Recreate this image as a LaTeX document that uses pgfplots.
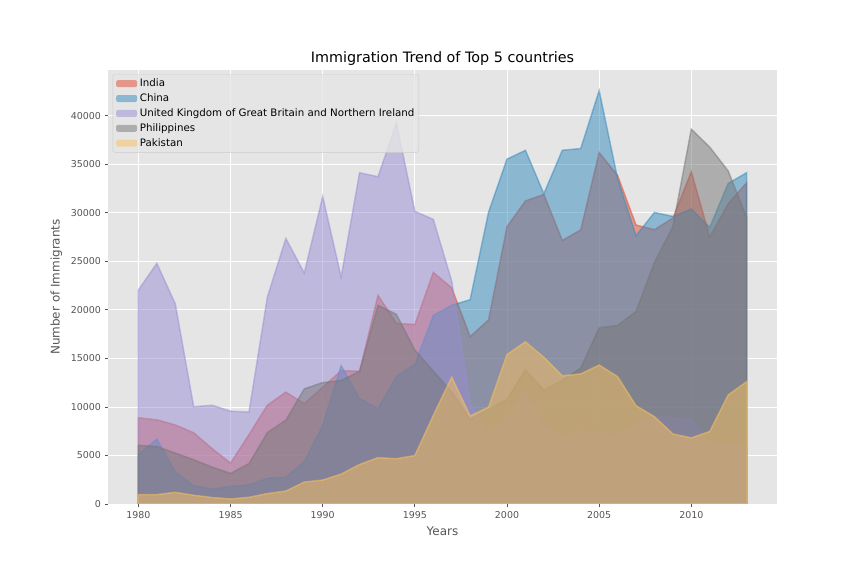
\documentclass[border=0pt]{standalone}
\usepackage{fontspec}
\setmainfont{DejaVu Sans}
\usepackage{pgfplots}
\pgfplotsset{compat=1.18}
\definecolor{bggray}{HTML}{E5E5E5}
\definecolor{cIndia}{HTML}{E24A33}
\definecolor{cChina}{HTML}{348ABD}
\definecolor{cUK}{HTML}{988ED5}
\definecolor{cPhil}{HTML}{777777}
\definecolor{cPak}{HTML}{FBC15E}
\definecolor{tickgray}{HTML}{555555}
\begin{document}
\begin{tikzpicture}[x=1bp,y=1bp]
\path[use as bounding box] (0,0) rectangle (864,576);
\begin{axis}[
  at={(108bp,72bp)}, anchor=south west,
  scale only axis, width=669bp, height=434bp,
  xmin=1978.35, xmax=2014.65, ymin=0, ymax=44713,
  axis background/.style={fill=bggray},
  axis line style={draw=none},
  grid=major, grid style={white, line width=0.8pt},
  xtick={1980,1985,...,2010}, ytick={0,5000,...,40000},
  scaled y ticks=false,
  /pgf/number format/1000 sep={},
  /pgf/number format/assume math mode=true,
  tick align=outside, major tick length=3.5bp,
  tick style={tickgray, line width=0.8pt},
  xtick pos=bottom, ytick pos=left,
  ticklabel style={font=\fontsize{9.5}{11}\selectfont, text=tickgray},
  xlabel={Years}, ylabel={Number of Immigrants},
  label style={font=\fontsize{12}{14}\selectfont, text=tickgray},
  xlabel style={yshift=-2bp},
  ylabel style={yshift=2bp},
  title={Immigration Trend of Top 5 countries},
  title style={font=\fontsize{14.4}{16}\selectfont, yshift=-5bp},
  legend cell align=left,
  legend style={fill=bggray, fill opacity=0.8, text opacity=1, draw=black!20, rounded corners=2bp,
    font=\fontsize{10.3}{12}\selectfont, at={(0.007,0.99)}, anchor=north west, row sep=1.6bp, inner sep=2.5bp},
  legend image code/.code={\fill[#1, draw opacity=0] (0bp,-3.5bp) rectangle (21bp,3.5bp);},
]
\addplot[draw=cIndia, draw opacity=0.5, fill=cIndia, fill opacity=0.5, line width=1.5pt] coordinates {
(1980,8880)(1981,8670)(1982,8147)(1983,7338)(1984,5704)(1985,4211)(1986,7150)(1987,10189)(1988,11522)(1989,10343)
(1990,12041)(1991,13734)(1992,13673)(1993,21496)(1994,18620)(1995,18489)(1996,23859)(1997,22268)(1998,17241)(1999,18974)
(2000,28572)(2001,31223)(2002,31889)(2003,27155)(2004,28235)(2005,36210)(2006,33848)(2007,28742)(2008,28261)(2009,29456)
(2010,34235)(2011,27509)(2012,30933)(2013,33087)} \closedcycle;
\addlegendentry{India}
\addplot[draw=cChina, draw opacity=0.5, fill=cChina, fill opacity=0.5, line width=1.5pt] coordinates {
(1980,5123)(1981,6682)(1982,3308)(1983,1863)(1984,1527)(1985,1816)(1986,1960)(1987,2643)(1988,2758)(1989,4323)
(1990,8076)(1991,14255)(1992,10846)(1993,9817)(1994,13128)(1995,14398)(1996,19415)(1997,20475)(1998,21049)(1999,30069)
(2000,35529)(2001,36434)(2002,31961)(2003,36439)(2004,36619)(2005,42584)(2006,33518)(2007,27642)(2008,30037)(2009,29622)
(2010,30391)(2011,28502)(2012,33024)(2013,34129)} \closedcycle;
\addlegendentry{China}
\addplot[draw=cUK, draw opacity=0.5, fill=cUK, fill opacity=0.5, line width=1.5pt] coordinates {
(1980,22045)(1981,24796)(1982,20620)(1983,10015)(1984,10170)(1985,9564)(1986,9470)(1987,21337)(1988,27359)(1989,23795)
(1990,31668)(1991,23380)(1992,34123)(1993,33720)(1994,39231)(1995,30145)(1996,29322)(1997,22965)(1998,10367)(1999,7045)
(2000,8840)(2001,11728)(2002,8046)(2003,6797)(2004,7533)(2005,7258)(2006,7140)(2007,8216)(2008,8979)(2009,8876)
(2010,8724)(2011,6204)(2012,6195)(2013,5827)} \closedcycle;
\addlegendentry{United Kingdom of Great Britain and Northern Ireland}
\addplot[draw=cPhil, draw opacity=0.5, fill=cPhil, fill opacity=0.5, line width=1.5pt] coordinates {
(1980,6051)(1981,5921)(1982,5249)(1983,4562)(1984,3801)(1985,3150)(1986,4166)(1987,7360)(1988,8639)(1989,11865)
(1990,12509)(1991,12718)(1992,13670)(1993,20479)(1994,19532)(1995,15864)(1996,13692)(1997,11549)(1998,8735)(1999,9734)
(2000,10763)(2001,13836)(2002,11707)(2003,12758)(2004,14004)(2005,18139)(2006,18400)(2007,19837)(2008,24887)(2009,28573)
(2010,38617)(2011,36765)(2012,34315)(2013,29544)} \closedcycle;
\addlegendentry{Philippines}
\addplot[draw=cPak, draw opacity=0.5, fill=cPak, fill opacity=0.5, line width=1.5pt] coordinates {
(1980,978)(1981,972)(1982,1201)(1983,900)(1984,668)(1985,514)(1986,691)(1987,1072)(1988,1334)(1989,2261)
(1990,2470)(1991,3079)(1992,4071)(1993,4777)(1994,4666)(1995,4994)(1996,9125)(1997,13073)(1998,9068)(1999,9979)
(2000,15400)(2001,16708)(2002,15110)(2003,13205)(2004,13399)(2005,14314)(2006,13127)(2007,10124)(2008,8994)(2009,7217)
(2010,6811)(2011,7468)(2012,11227)(2013,12603)} \closedcycle;
\addlegendentry{Pakistan}
\end{axis}
\end{tikzpicture}
\end{document}
